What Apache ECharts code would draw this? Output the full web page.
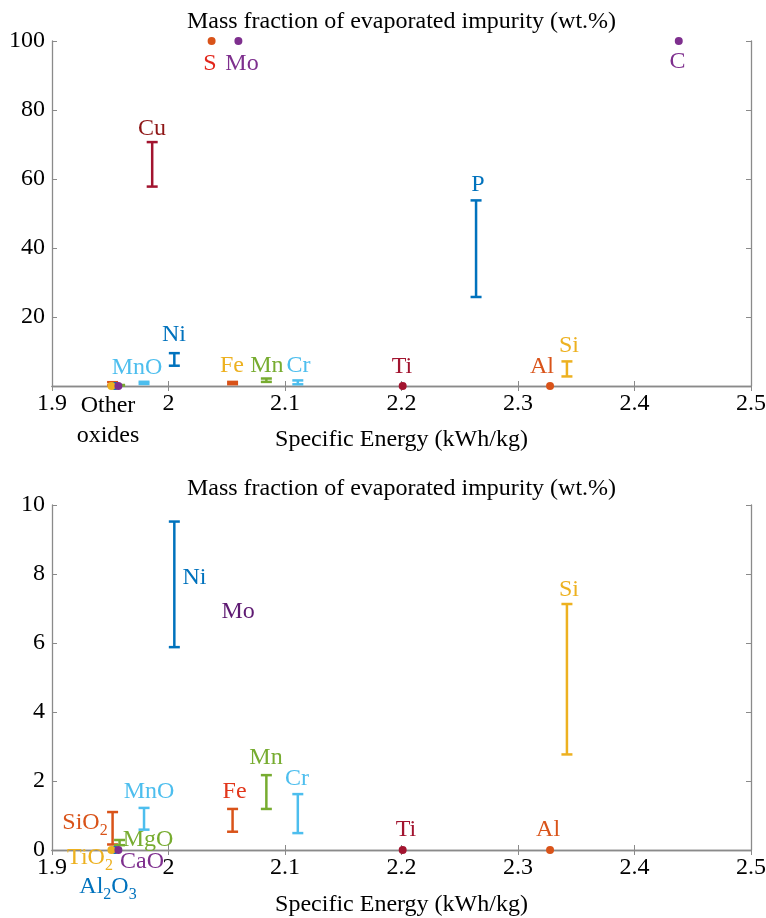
<!DOCTYPE html>
<html>
<head>
<meta charset="utf-8">
<script src="https://cdn.jsdelivr.net/npm/echarts@6/dist/echarts.min.js"></script>
<style>
  html, body { margin: 0; background: #fff; }
  #chart { width: 766px; height: 918px; }
</style>
</head>
<body>
<div id="chart"></div>
<script>
// ranges of evaporated mass fraction (wt.%) against specific energy (kWh/kg)
const barNames = ['Cu', 'P', 'Ni', 'Si', 'Mn', 'Cr', 'Fe', 'MnO', 'SiO2', 'MgO'];
const barX    = [1.986, 2.264, 2.005, 2.342, 2.084, 2.111, 2.055, 1.979, 1.952, 1.958];
const barLow  = [57.8, 25.8, 5.88, 2.77, 1.19, 0.49, 0.53, 0.59, 0.16, 0.14];
const barHigh = [70.7, 53.8, 9.52, 7.13, 2.17, 1.62, 1.19, 1.22, 1.10, 0.29];

// single values
const pointNames = ['S', 'Mo', 'C', 'Ti', 'Al', 'Al2O3', 'TiO2', 'CaO'];
const pointX = [2.037, 2.060, 2.438, 2.201, 2.3275, 1.954, 1.951, 1.957];
const pointY = [100, 100, 100, 0, 0, 0, 0, 0];

// text labels (anchor in data coords)
const topLabels  = ['S', 'Mo', 'C', 'Cu', 'P', 'Ni', 'MnO', 'Fe', 'Mn', 'Cr', 'Ti', 'Al', 'Si', 'Other\noxides'];
const topLabelX  = [2.0356, 2.0631, 2.4369, 1.9858, 2.2657, 2.0047, 1.973, 2.0545, 2.0845, 2.1116, 2.2004, 2.3206, 2.3438, 1.9481];
const topLabelY  = [93.3, 93.3, 93.8, 74.5, 58.3, 14.8, 5.2, 5.8, 5.8, 5.8, 5.5, 5.5, 11.6, -10.1];

const botLabels  = ['Ni', 'Mo', 'Si', 'Mn', 'Cr', 'Fe', 'MnO', 'Ti', 'Al', 'SiO2', 'MgO', 'TiO2', 'CaO', 'Al2O3'];
const botLabelX  = [2.0223, 2.0597, 2.3438, 2.0837, 2.1103, 2.0567, 1.9833, 2.2039, 2.3258, 1.9283, 1.9824, 1.9326, 1.9773, 1.9481];
const botLabelY  = [7.88, 6.9, 7.54, 2.67, 2.06, 1.68, 1.68, 0.58, 0.58, 0.78, 0.29, -0.23, -0.35, -1.07];

const colors = {
  Cu: '#a2142f', P: '#0072bd', Ni: '#0072bd', Si: '#edb120', Mn: '#77ac30',
  Cr: '#4dbeee', Fe: '#d95319', MnO: '#4dbeee', SiO2: '#d95319', MgO: '#77ac30',
  S: '#d95319', Mo: '#7e2f8e', C: '#7e2f8e', Ti: '#a2142f', Al: '#d95319',
  TiO2: '#edb120', Al2O3: '#0072bd', CaO: '#7e2f8e'
};
const topLabelColor = { Fe: '#edb120', S: '#e2261b', Cu: '#8e1616', 'Other\noxides': '#000' };
const botLabelColor = { Fe: '#e2361b', Mo: '#5e1a72' };

const FONT = 'Liberation Serif';
const FS = 24;
const AXIS_GRAY = '#8a8a8a';

function renderBar(params, api) {
  const x = api.value(0);
  const p1 = api.coord([x, api.value(1)]);
  const p2 = api.coord([x, api.value(2)]);
  const w = 5.5;
  const style = { stroke: api.visual('color'), lineWidth: 2.5 };
  return {
    type: 'group',
    children: [
      { type: 'line', shape: { x1: p1[0], y1: p1[1], x2: p2[0], y2: p2[1] }, style },
      { type: 'line', shape: { x1: p1[0] - w, y1: p1[1], x2: p1[0] + w, y2: p1[1] }, style },
      { type: 'line', shape: { x1: p2[0] - w, y1: p2[1], x2: p2[0] + w, y2: p2[1] }, style }
    ]
  };
}

function richName(s) {
  if (s.indexOf('\n') >= 0) return s;
  return s.replace(/(\d)/g, '{s|$1}').replace(/([^{}|\d]+)(?=\{|$)/g, '{n|$1}');
}

const grids = [];
const xAxes = [];
const yAxes = [];
const series = [];

function addPanel(i, top, yMax, yInt, labels, lx, ly, lcol, hideZero, titleGap, nameGap) {
  grids.push({ left: 52, top: top, width: 699, height: 345, outerBoundsMode: 'none' });
  const axisLine = { show: true, lineStyle: { color: AXIS_GRAY, width: 1.3 } };
  const axisTick = { show: true, inside: true, length: 5, lineStyle: { color: AXIS_GRAY } };
  const label = { color: '#000', fontFamily: FONT, fontSize: FS };
  xAxes.push({
    type: 'value', gridIndex: i, min: 1.9, max: 2.5, interval: 0.1, position: 'bottom',
    axisLine, axisTick, splitLine: { show: false },
    axisLabel: Object.assign({ margin: 6, formatter: v => String(parseFloat(v.toFixed(1))) }, label),
    name: 'Specific Energy (kWh/kg)', nameLocation: 'middle', nameGap: nameGap,
    nameTextStyle: { color: '#000', fontFamily: FONT, fontSize: FS }
  });
  xAxes.push({
    type: 'value', gridIndex: i, min: 1.9, max: 2.5, interval: 0.1, position: 'top',
    axisLine, axisTick, splitLine: { show: false }, axisLabel: { show: false },
    name: 'Mass fraction of evaporated impurity (wt.%)', nameLocation: 'middle', nameGap: titleGap,
    nameTextStyle: { color: '#000', fontFamily: FONT, fontSize: FS }
  });
  yAxes.push({
    type: 'value', gridIndex: i, min: 0, max: yMax, interval: yInt, position: 'left',
    axisLine, axisTick, splitLine: { show: false },
    axisLabel: Object.assign({ margin: 7, formatter: v => (hideZero && v === 0) ? '' : String(v) }, label)
  });
  yAxes.push({
    type: 'value', gridIndex: i, min: 0, max: yMax, interval: yInt, position: 'right',
    axisLine, axisTick, splitLine: { show: false }, axisLabel: { show: false }
  });

  const xi = i * 2, yi = i * 2;
  const bars = [];
  barNames.forEach((n, k) => {
    if (barLow[k] <= yMax) bars.push({ name: n, value: [barX[k], barLow[k], Math.min(barHigh[k], yMax)], itemStyle: { color: colors[n] } });
  });
  series.push({ type: 'custom', xAxisIndex: xi, yAxisIndex: yi, renderItem: renderBar, data: bars, clip: false, silent: true, z: 3 });

  const pts = [];
  pointNames.forEach((n, k) => {
    if (pointY[k] <= yMax) pts.push({ name: n, value: [pointX[k], pointY[k]], itemStyle: { color: colors[n] } });
  });
  series.push({
    type: 'scatter', xAxisIndex: xi, yAxisIndex: yi, symbol: 'circle', symbolSize: 8,
    itemStyle: { opacity: 1 }, data: pts, clip: false, silent: true, z: 4
  });

  const lab = labels.map((n, k) => ({
    name: n,
    value: [lx[k], ly[k]],
    label: { color: lcol[n] || colors[n] }
  }));
  series.push({
    type: 'scatter', xAxisIndex: xi, yAxisIndex: yi, symbolSize: 0, clip: false, silent: true, z: 5,
    itemStyle: { opacity: 1 },
    data: lab,
    label: {
      show: true, position: 'inside', fontFamily: FONT, fontSize: FS, lineHeight: 30, align: 'center',
      formatter: p => richName(p.name),
      rich: {
        n: { fontFamily: FONT, fontSize: FS, lineHeight: 25, verticalAlign: 'top' },
        s: { fontFamily: FONT, fontSize: 16, lineHeight: 16, verticalAlign: 'top', padding: [12, 0, 0, 0] }
      }
    }
  });
}

addPanel(0, 41, 100, 20, topLabels, topLabelX, topLabelY, topLabelColor, true, 7, 42);
addPanel(1, 505, 10, 2, botLabels, botLabelX, botLabelY, botLabelColor, false, 4, 43);

const chart = echarts.init(document.getElementById('chart'));
chart.setOption({
  animation: false,
  backgroundColor: '#fff',
  grid: grids,
  xAxis: xAxes,
  yAxis: yAxes,
  series: series
});
</script>
</body>
</html>
